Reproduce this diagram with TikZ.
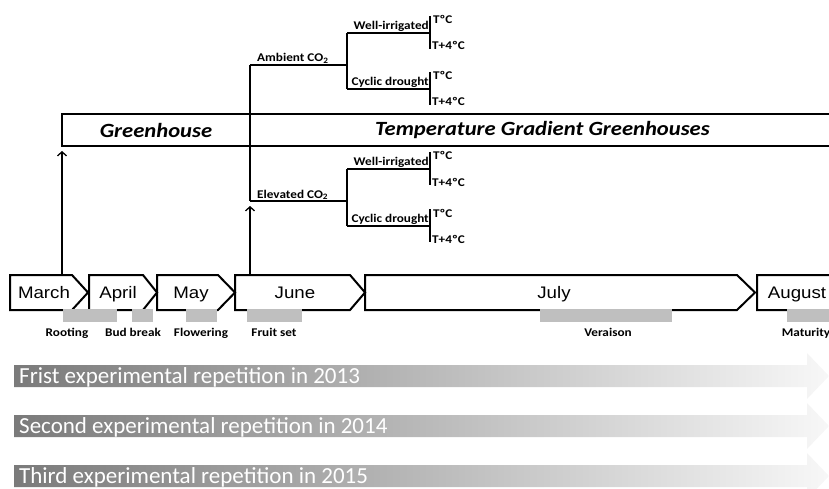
\documentclass[tikz,border=0pt]{standalone}
\usepackage{fontspec}
\setmainfont{Carlito}[FakeStretch=1.12]
\newfontfamily\arialfont{Liberation Sans}[FakeStretch=1.12]
\newfontfamily\bandfont{Carlito}
\usetikzlibrary{positioning,arrows.meta}
\tikzset{
  phasebox/.style={draw, line width=2.6pt, inner sep=0pt, outer sep=0pt, font=\fontsize{20.2}{24}\selectfont\bfseries\itshape},
  branch/.style={line width=1.4pt},
  lbl/.style={font=\fontsize{11.8}{13}\selectfont\bfseries, inner sep=1pt},
  monthbox/.style={draw, line width=2pt, line join=miter},
  monthtxt/.style={font=\arialfont\fontsize{16.7}{18}\selectfont, inner sep=0pt, anchor=base},
  stagebar/.style={fill=black!25},
  up/.style={line width=1.3pt, -{Straight Barb[length=4pt,width=9pt]}},
  rep/.style={left color=black!52, right color=black!3},
  reptxt/.style={font=\bandfont\fontsize{23}{25}\selectfont, text=white, anchor=base west, inner sep=0pt}
}
\begin{document}
\begin{tikzpicture}[x=1pt, y=-1pt]
\useasboundingbox (0,0) rectangle (829,489);
\clip (0,0) rectangle (829,489);
% the two kinds of greenhouse
\node[phasebox, minimum width=188, minimum height=32] (gh) at (156,130) {Greenhouse};
\node[phasebox, minimum width=585, minimum height=32, anchor=west] (tgg) at (gh.east) {Temperature Gradient Greenhouses};
% treatments
\foreach \co/\y/\ya/\yb/\txt in {amb/65/33/89/Ambient, elev/201/169/226/Elevated}{
  \coordinate (\co) at (250,\y);
  \coordinate (\co-s) at (347,\y);
  \draw[branch] (\co) -- (\co-s);
  \node[lbl, anchor=south west] (\co-lbl) at (256,\y) {\txt\ CO\textsubscript{2}};
  \draw[branch] (347,\ya) -- (347,\yb);
  \foreach \yy/\wtxt in {\ya/Well-irrigated, \yb/Cyclic drought}{
    \draw[branch] (347,\yy) -- (430,\yy);
    \node[lbl, anchor=south east] (w-\yy) at (430,\yy) {\wtxt};
    \draw[branch] (430,\yy-17) -- (430,\yy+16);
    \node[lbl, anchor=base west] (t-\yy) at (432,\yy-9) {TºC};
    \node[lbl, anchor=base west] (tt-\yy) at (431,\yy+17) {T+4ºC};
  }
}
\draw[branch] (amb) -- (elev);
% months
\foreach \l/\s/\t/\mx/\nm/\txt in {10/72/88/44/march/March, 89/143/157/118/april/April, 157/218/235/191/may/May, 235/350/365/295/june/June, 365/737/755/554/july/July, 757/860/876/797/august/August}{
  \draw[monthbox] (\l,275) coordinate (\nm) -- (\s,275) -- (\t,292.5) -- (\s,310) -- (\l,310) -- cycle;
  \node[monthtxt] (\nm-txt) at (\mx,298.5) {\txt};
}
\draw[up] (gh.south west |- march) -- ([yshift=-5pt]gh.south west);
\draw[up] (tgg.south west |- june) -- ([yshift=-5pt]elev);
% phenology
\foreach \a/\b/\lx/\nm/\txt in {63/117/67/rooting/Rooting, 132/153/133/budbreak/Bud break, 186/217/201/flowering/Flowering, 247/302/274/fruitset/Fruit set, 540/672/608/veraison/Veraison, 787/860/806/maturity/Maturity}{
  \fill[stagebar] (\a,309) rectangle (\b,322);
  \node[lbl, anchor=base] (\nm) at (\lx,336.5) {\txt};
}
% repetitions
\foreach \y/\nm/\txt in {376/first/Frist experimental repetition in 2013, 426/second/Second experimental repetition in 2014, 476/third/Third experimental repetition in 2015}{
  \shade[rep] (14,\y-11) -- (807,\y-11) -- (807,\y-23) -- (829,\y) -- (807,\y+23) -- (807,\y+11) -- (14,\y+11) -- cycle;
  \node[reptxt] (\nm) at (19,\y+7.5) {\txt};
}
\end{tikzpicture}
\end{document}
